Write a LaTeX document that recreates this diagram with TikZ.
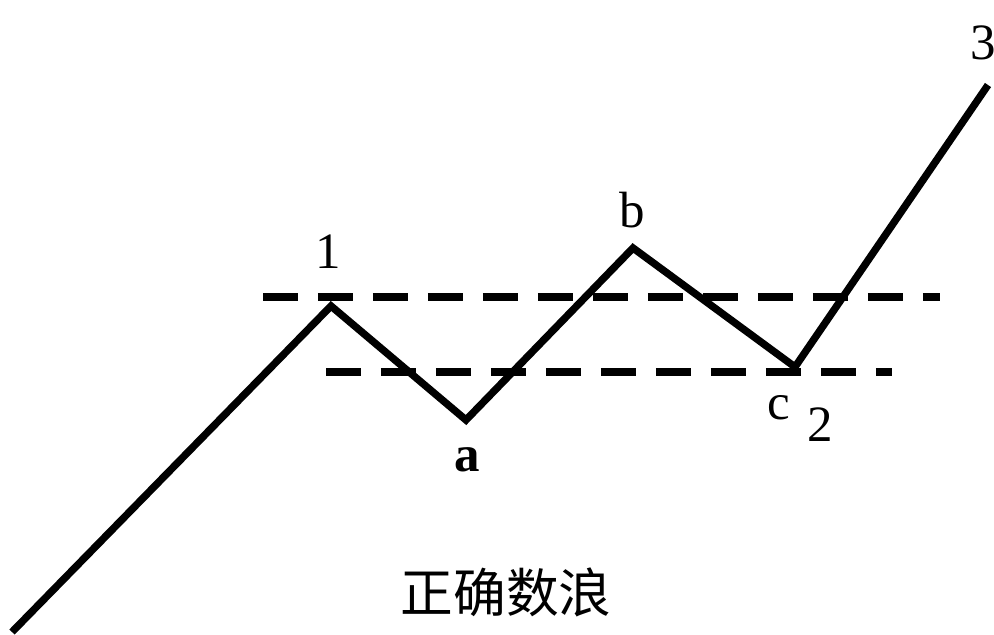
\documentclass[tikz,border=0pt]{standalone}
\usepackage{fontspec}
\setmainfont{Liberation Serif}
\newfontfamily\cjk{Noto Sans CJK SC}
\usetikzlibrary{positioning}
\tikzset{
    wave/.style={draw, line width=4.2pt, line join=miter}, % 波浪折线
    level/.style={draw, line width=4pt, dash pattern=on 0.7cm off 0.4cm}, % 水平虚线
    lbl/.style={font=\fontsize{29}{30}\selectfont, inner sep=0pt}
}

\begin{document}
\begin{tikzpicture}[x=0.02cm, y=-0.02cm]
    \useasboundingbox (0,0) rectangle (994,635);

    % 浪的转折点
    \coordinate (s) at (12,632);
    \coordinate (w1) at (331,306);
    \coordinate (wa) at (466,420);
    \coordinate (wb) at (633,248);
    \coordinate (wc) at (795,367);
    \coordinate (w3) at (988,85);

    % 虚线端点
    \coordinate (u1) at (263,297);
    \coordinate (u2) at (940,297);
    \coordinate (l1) at (326,372);
    \coordinate (l2) at (892,372);

    \draw[level] (u1) -- (u2);
    \draw[level] (l1) -- (l2);

    \draw[wave] (s) -- (w1) -- (wa) -- (wb) -- (wc) -- (w3);

    % 标注
    \node (n1) [lbl] at (328,252) {1};
    \node (na) [lbl, font=\fontsize{29}{30}\selectfont\bfseries] at (467,460) {a};
    \node (nb) [lbl] at (632,210) {b};
    \node (nc) [lbl] at (779,408) {c};
    \node (n2) [lbl] at (820,425) {2};
    \node (n3) [lbl] at (983,43) {3};

    \node (title) [inner sep=0pt, font=\fontsize{30}{32}\selectfont\cjk] at (506,592) {正确数浪};
\end{tikzpicture}
\end{document}
